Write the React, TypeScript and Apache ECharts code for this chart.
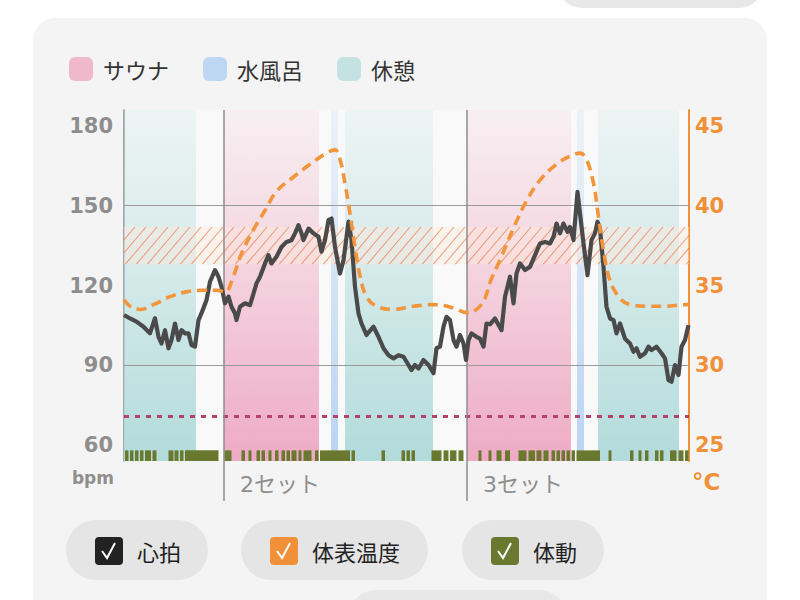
import React, { useEffect, useRef } from 'react';
import * as echarts from 'echarts';

const FONT = "'Noto Sans CJK JP', 'Noto Sans', sans-serif";
const NUM_FONT = "'DejaVu Sans', 'Noto Sans CJK JP', sans-serif";

// axis ranges
const X_MIN = 0;
const X_MAX = 113;
const BPM_MIN = 54;
const BPM_MAX = 186;
const TEMP_MIN = 24;
const TEMP_MAX = 46;

// set markers on the time axis
const setMarks = [20, 68.6];
const setLabels = ['2セット', '3セット'];

// phases [start, end] in minutes
const saunaBands: number[][] = [[20, 39], [68.6, 89.4]];
const coldBands: number[][] = [[41.4, 42.8], [90.6, 92]];
const restBands: number[][] = [[0, 14.4], [44.2, 61.8], [94.8, 111]];

// heart rate zone (hatched) and resting line
const zoneRange = [128, 142];
const restingBpm = 71;
const gridBpm = [90, 150];

// heart rate [minute, bpm]
const heartRate: number[][] = [
  [0, 108.9], [1.2, 107.6], [2.5, 106.4], [3.9, 104.5], [5.2, 102], [6.2, 107.7], [6.9, 100.7],
  [7.5, 98.2], [8.2, 103.2], [8.9, 96.4], [9.5, 99.5], [10.2, 105.7], [10.9, 99.5], [11.5, 103.2],
  [12.2, 102], [12.9, 102], [13.5, 97.6], [14.2, 97], [14.9, 107], [15.5, 109.6], [16.5, 114.5],
  [17.2, 121.4], [18.2, 125.8], [18.9, 123.3], [19.5, 119.5], [20.2, 113.3], [20.9, 115.8],
  [21.5, 112], [22.2, 109.5], [22.5, 107], [23.2, 112], [24.2, 113.3], [25.2, 112.6], [25.9, 117],
  [26.5, 120.8], [27.2, 123.3], [28.2, 128.3], [28.9, 131.4], [29.5, 128.3], [30.5, 130.8],
  [31.5, 134.5], [32.5, 136.4], [33.5, 137], [34.2, 139.6], [34.9, 142.7], [35.5, 139.6],
  [35.9, 137.1], [36.9, 141.4], [37.9, 139.6], [38.9, 138.3], [39.5, 132.7], [40.2, 137.1],
  [40.9, 144.6], [41.5, 145.2], [42.2, 134.5], [43.2, 124.5], [43.9, 129.5], [44.9, 144],
  [45.5, 137.1], [46.2, 119.5], [46.9, 109.5], [47.5, 105.7], [48.5, 101.4], [49.9, 104.5],
  [50.9, 100.7], [51.9, 96.4], [52.9, 93.8], [53.9, 92.6], [54.9, 93.8], [55.9, 93.2], [56.9, 90.1],
  [57.5, 88.2], [58.2, 90.1], [58.9, 88.8], [59.9, 92], [60.9, 90.1], [61.9, 87], [62.5, 96.4],
  [63.2, 97], [63.9, 104.5], [64.5, 108.2], [65.2, 107], [65.9, 99.5], [66.5, 97], [67.2, 101.4],
  [67.9, 98.2], [68.4, 92], [68.9, 99.5], [69.5, 102], [70.5, 100.7], [71.2, 100], [71.9, 97],
  [72.5, 105.7], [73.2, 105.4], [74.2, 107.6], [75.5, 103.2], [76.2, 115.8], [77.2, 123.3],
  [77.9, 113.3], [78.5, 124.5], [79.2, 128.3], [80.2, 125.8], [81.2, 127], [82.2, 131.4],
  [83.2, 135.8], [84.2, 136.4], [85.2, 135.8], [85.9, 138.3], [86.5, 143.3], [87.2, 139.6],
  [87.9, 143.3], [88.7, 140.2], [89.2, 142], [89.9, 137.1], [90.7, 155.2], [91.2, 147.1],
  [91.9, 135.8], [92.7, 123.9], [93.5, 137.1], [94.2, 139.6], [94.7, 144], [95.2, 141.4],
  [95.9, 127], [96.5, 112], [97.2, 107.6], [97.9, 107], [98.5, 102], [99.2, 105.7], [100.2, 100],
  [101.2, 98.2], [101.9, 95.1], [102.5, 96.4], [103.2, 93.2], [104.2, 94.5], [104.9, 97],
  [105.5, 95.7], [106.5, 97], [107.5, 94.5], [108.2, 92.6], [108.9, 84.4], [109.5, 83.8],
  [110.2, 90.1], [110.9, 86.3], [111.5, 97], [112.2, 99.5], [112.9, 105.1],
];

// skin temperature [minute, °C]
const skinTemp: number[][] = [
  [0, 34.1], [1.2, 33.7], [3.2, 33.5], [5.9, 33.8], [9.2, 34.3], [12.5, 34.6], [15.9, 34.7],
  [18.5, 34.7], [20.2, 34.6], [21.9, 35.6], [23.5, 37.0], [25.9, 38.5], [28.2, 39.7], [30.5, 40.9],
  [33.9, 41.8], [37.2, 42.6], [40.5, 43.3], [42.2, 43.5], [43.2, 42.9], [44.2, 41.4], [45.2, 39.5],
  [46.2, 37.4], [47.2, 35.6], [48.5, 34.3], [50.5, 33.7], [53.9, 33.5], [57.9, 33.7], [61.9, 33.8],
  [65.9, 33.6], [68.5, 33.3], [70.5, 33.5], [72.2, 34.2], [73.2, 35.2], [75.2, 36.6], [77.9, 38.6],
  [80.5, 40.3], [83.2, 41.6], [86.5, 42.6], [89.2, 43.1], [91.2, 43.3], [92.5, 42.9], [93.9, 41.4],
  [94.9, 39.3], [95.9, 37.2], [97.2, 35.3], [99.2, 34.2], [101.2, 33.8], [104.5, 33.7],
  [107.9, 33.7], [112.5, 33.8], [113, 33.8],
];

// body movement intervals [start, end]
const movement: number[][] = [
  [0.2, 0.9], [1.2, 1.9], [2.2, 2.9], [3.2, 3.9], [4.2, 5.4], [5.7, 6.5], [8.9, 9.9], [10.1, 10.9],
  [11.2, 11.9], [12.2, 18.9], [20.1, 21.5], [23.5, 24.2], [24.9, 25.5], [26.5, 27.2], [27.5, 28.2],
  [28.9, 29.5], [30.2, 30.9], [31.5, 32.2], [32.5, 33.2], [33.5, 34.5], [34.9, 35.5], [35.9, 37.5],
  [38.2, 38.9], [39.2, 45.2], [45.5, 46.2], [51.5, 52.2], [55.5, 56.2], [56.5, 57.2], [57.5, 58.2],
  [61.5, 63.5], [63.9, 64.9], [65.2, 66.5], [66.9, 67.9], [70.9, 71.5], [72.9, 73.5], [74.5, 75.5],
  [76.2, 77.2], [78.9, 80.5], [80.9, 82.2], [82.5, 83.5], [83.9, 84.9], [85.5, 86.2], [86.5, 87.2],
  [87.5, 88.2], [88.5, 89.2], [89.5, 90.2], [90.5, 95.2], [96.9, 97.5], [101.2, 101.9],
  [102.9, 103.5], [104.2, 104.9], [106.2, 106.9], [107.2, 107.9], [109.2, 110.5], [110.9, 111.9],
  [112.2, 112.9],
];
const MOVE_TOP = 58;

const legendNames = ['サウナ', '水風呂', '休憩'];
const toggleNames = ['心拍', '体表温度', '体動'];

function bandRender(topColor: string, bottomColor: string) {
  return (_p: any, api: any) => {
    const a = api.coord([api.value(0), BPM_MAX]);
    const b = api.coord([api.value(1), BPM_MIN]);
    return {
      type: 'rect',
      shape: { x: a[0], y: a[1], width: b[0] - a[0], height: b[1] - a[1] },
      style: {
        fill: new echarts.graphic.LinearGradient(0, 0, 0, 1, [
          { offset: 0, color: topColor },
          { offset: 1, color: bottomColor },
        ]),
      },
    };
  };
}

function hatchRender(_p: any, api: any) {
  const lo = api.value(1);
  const hi = api.value(2);
  const tl = api.coord([X_MIN, hi]);
  const br = api.coord([X_MAX, lo]);
  const left = tl[0], right = br[0], top = tl[1], bottom = br[1];
  const h = bottom - top;
  const run = h * 0.85;
  const step = 11;
  const children: any[] = [
    { type: 'rect', shape: { x: left, y: top, width: right - left, height: h }, style: { fill: 'rgba(255,232,220,0.45)' } },
  ];
  for (let x0 = left - run; x0 < right; x0 += step) {
    let xa = x0, ya = bottom, xb = x0 + run, yb = top;
    if (xa < left) { ya = bottom - ((left - x0) * h) / run; xa = left; }
    if (xb > right) { yb = bottom - ((right - x0) * h) / run; xb = right; }
    if (xb <= xa) continue;
    children.push({
      type: 'line',
      shape: { x1: xa, y1: ya, x2: xb, y2: yb },
      style: { stroke: 'rgba(226,112,70,0.6)', lineWidth: 1.1 },
    });
  }
  return { type: 'group', children };
}

function moveRender(_p: any, api: any) {
  const a = api.coord([api.value(0), MOVE_TOP]);
  const b = api.coord([api.value(1), BPM_MIN]);
  return {
    type: 'rect',
    shape: { x: a[0], y: a[1], width: Math.max(b[0] - a[0], 1.5), height: b[1] - a[1] },
    style: { fill: '#6b7830' },
  };
}

function toggleButton(x: number, w: number, color: string, label: string) {
  return {
    type: 'group',
    x,
    y: 520,
    children: [
      { type: 'rect', shape: { x: 0, y: 0, width: w, height: 60, r: 30 }, style: { fill: '#e5e5e5' } },
      { type: 'rect', shape: { x: 29, y: 17, width: 28, height: 28, r: 4 }, style: { fill: color } },
      {
        type: 'polyline',
        shape: { points: [[36, 31], [41, 38], [49, 23]] },
        style: { stroke: '#ffffff', lineWidth: 2, fill: 'none' },
      },
      {
        type: 'text',
        style: { text: label, x: 71, y: 31, verticalAlign: 'middle', fontSize: 22, fill: '#222', fontFamily: FONT },
      },
    ],
  };
}

export default function App() {
  const ref = useRef<HTMLDivElement>(null);
  useEffect(() => {
    const chart = echarts.init(ref.current!, null, { renderer: 'svg' });
    const option: any = {
      animation: false,
      backgroundColor: '#ffffff',
      textStyle: { fontFamily: FONT },
      graphic: [
        { type: 'rect', z: -10, shape: { x: 558, y: -40, width: 205, height: 48, r: 24 }, style: { fill: '#e8e8e8' } },
        { type: 'rect', z: -10, shape: { x: 33, y: 18, width: 734, height: 640, r: 22 }, style: { fill: '#f4f4f4' } },
        { type: 'rect', z: -5, shape: { x: 350, y: 590, width: 215, height: 50, r: 25 }, style: { fill: '#e8e8e8' } },
        {
          type: 'text', z: 10,
          style: { text: 'bpm', x: 114, y: 478, align: 'right', verticalAlign: 'middle', fontSize: 17, fontWeight: 'bold', fill: '#8e8e8e', fontFamily: NUM_FONT },
        },
        {
          type: 'text', z: 10,
          style: { text: '°C', x: 692, y: 482, align: 'left', verticalAlign: 'middle', fontSize: 23, fontWeight: 'bold', fill: '#f0913a', fontFamily: NUM_FONT },
        },
        toggleButton(66, 142, '#222222', toggleNames[0]),
        toggleButton(241, 187, '#f0913a', toggleNames[1]),
        toggleButton(462, 142, '#6b7830', toggleNames[2]),
      ],
      legend: {
        data: legendNames,
        left: 69,
        top: 57,
        padding: 0,
        icon: 'roundRect',
        itemWidth: 24,
        itemHeight: 24,
        itemGap: 34,
        selectedMode: false,
        textStyle: { fontSize: 22, color: '#333', fontFamily: FONT, padding: [0, 0, 0, 5] },
      },
      grid: {
        left: 124, right: 111, top: 110, bottom: 139,
        show: true, backgroundColor: '#f9f9f9', borderWidth: 0,
      },
      xAxis: {
        type: 'value', min: X_MIN, max: X_MAX,
        axisLine: { show: false },
        splitLine: { show: false },
        axisTick: { show: true, customValues: setMarks, length: 40, lineStyle: { color: '#8c8c8c', width: 1.5 } },
        axisLabel: {
          customValues: setMarks,
          formatter: (v: number) => {
            let best = 0;
            setMarks.forEach((m, i) => { if (Math.abs(m - v) < Math.abs(setMarks[best] - v)) best = i; });
            return setLabels[best];
          },
          color: '#8e8e8e', fontSize: 22, align: 'left', padding: [0, 0, 0, 16], margin: 12, fontFamily: NUM_FONT,
        },
      },
      yAxis: [
        {
          type: 'value', min: BPM_MIN, max: BPM_MAX, interval: 6, position: 'left',
          axisLine: { show: true, lineStyle: { color: '#8c8c8c', width: 1.5 } },
          axisTick: { show: false },
          splitLine: { show: false },
          axisLabel: {
            formatter: (v: number) => (v % 30 === 0 ? String(v) : ''),
            color: '#8e8e8e', fontSize: 21, fontWeight: 'bold', margin: 11, fontFamily: NUM_FONT,
          },
        },
        {
          type: 'value', min: TEMP_MIN, max: TEMP_MAX, interval: 1, position: 'right',
          axisLine: { show: true, lineStyle: { color: '#f0913a', width: 2 } },
          axisTick: { show: false },
          splitLine: { show: false },
          axisLabel: {
            formatter: (v: number) => (v % 5 === 0 ? String(v) : ''),
            color: '#f0913a', fontSize: 21, fontWeight: 'bold', margin: 6, fontFamily: NUM_FONT,
          },
        },
      ],
      series: [
        {
          name: legendNames[0], type: 'custom', z: 1, data: saunaBands,
          itemStyle: { color: '#f0b8cb' },
          renderItem: bandRender('rgba(240,184,203,0.15)', 'rgba(238,170,196,1)'),
        },
        {
          name: legendNames[1], type: 'custom', z: 1, data: coldBands,
          itemStyle: { color: '#bdd7f3' },
          renderItem: bandRender('rgba(189,215,243,0.2)', 'rgba(184,211,242,1)'),
        },
        {
          name: legendNames[2], type: 'custom', z: 1, data: restBands,
          itemStyle: { color: '#c4e2e1' },
          renderItem: bandRender('rgba(190,224,224,0.2)', 'rgba(178,219,219,1)'),
        },
        {
          name: 'zone', type: 'custom', z: 2, data: [[0, zoneRange[0], zoneRange[1]]],
          encode: { x: 0, y: [1, 2] },
          renderItem: hatchRender,
        },
        {
          name: 'guides', type: 'line', z: 3, data: [], symbol: 'none',
          markLine: {
            silent: true, symbol: 'none', label: { show: false },
            data: [
              ...gridBpm.map((v) => ({ yAxis: v, lineStyle: { color: '#9a9a9a', width: 1.2, type: 'solid' } })),
              { yAxis: restingBpm, lineStyle: { color: '#b4436c', width: 3, type: [5, 6] } },
              ...setMarks.map((v) => ({ xAxis: v, lineStyle: { color: '#8c8c8c', width: 1.5, type: 'solid' } })),
            ],
          },
        },
        {
          name: 'movement', type: 'custom', z: 4, data: movement,
          renderItem: moveRender,
        },
        {
          name: toggleNames[0], type: 'line', z: 5, yAxisIndex: 0, data: heartRate,
          symbol: 'none', lineStyle: { color: '#4a4a4a', width: 4.2, join: 'round' },
        },
        {
          name: toggleNames[1], type: 'line', z: 6, yAxisIndex: 1, data: skinTemp,
          symbol: 'none', smooth: 0.4,
          lineStyle: { color: '#f3953a', width: 3.6, type: [10, 6] },
        },
      ],
    };
    chart.setOption(option);
    return () => chart.dispose();
  }, []);
  return (
    <div
      ref={ref}
      style={{ position: 'fixed', left: 0, top: 0, width: 800, height: 600, background: '#ffffff' }}
    />
  );
}
